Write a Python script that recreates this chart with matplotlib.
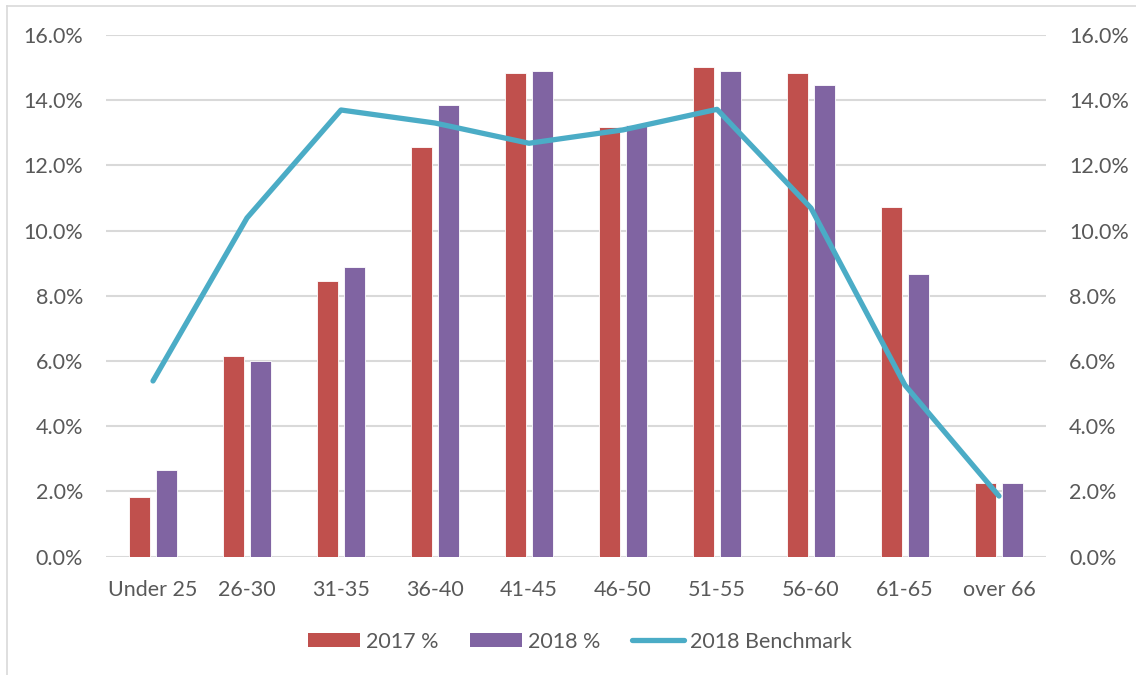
import matplotlib
matplotlib.use("Agg")
import matplotlib.pyplot as plt
from matplotlib.lines import Line2D
from matplotlib.patches import Patch
import numpy as np

categories = ["Under 25", "26-30", "31-35", "36-40", "41-45", "46-50", "51-55", "56-60", "61-65", "over 66"]
pct_2017 = [1.84, 6.17, 8.45, 12.57, 14.84, 13.17, 15.03, 14.84, 10.71, 2.26]
pct_2018 = [2.67, 6.01, 8.89, 13.86, 14.89, 13.23, 14.89, 14.48, 8.68, 2.27]
bench_2018 = [5.39, 10.39, 13.70, 13.30, 12.68, 13.09, 13.72, 10.69, 5.26, 1.86]
yticks = [0, 2, 4, 6, 8, 10, 12, 14, 16]

C17 = "#C0504D"
C18 = "#8064A2"
CB = "#4BACC6"
TXT = "#595959"
GRID = "#D9D9D9"
FS = 15.5

plt.rcParams['font.family'] = ['Lato', 'DejaVu Sans']

W, H = 1136, 675
L, R, T, B = 106, 1046, 35, 556.7
fig = plt.figure(figsize=(W/100, H/100), dpi=100)
ax = fig.add_axes([L/W, 1-B/H, (R-L)/W, (B-T)/H])

x = np.arange(len(categories))
bw = 0.223
off = 0.143
ax.bar(x - off, pct_2017, bw, color=C17, edgecolor="white", linewidth=0.6, zorder=2)
ax.bar(x + off, pct_2018, bw, color=C18, edgecolor="white", linewidth=0.6, zorder=2)

ax.set_xlim(-0.5, len(categories)-0.5)
ax.set_ylim(0, 16)
ax.set_yticks(yticks)
ax.set_yticklabels([f"{v:.1f}%" for v in yticks])
ax.set_xticks(x)
ax.set_xticklabels(categories)
ax.grid(axis='y', color=GRID, linewidth=1.5, zorder=0)
ax.set_axisbelow(True)
for s in ax.spines.values():
    s.set_visible(False)
ax.tick_params(axis='both', length=0, labelsize=FS, labelcolor=TXT)
ax.tick_params(axis='y', pad=16.5)
ax.tick_params(axis='x', pad=17)

ax2 = ax.twinx()
ax2.set_ylim(0, 16)
ax2.set_yticks(yticks)
ax2.set_yticklabels([f"{v:.1f}%" for v in yticks])
for s in ax2.spines.values():
    s.set_visible(False)
ax2.tick_params(axis='y', length=0, labelsize=FS, labelcolor=TXT, pad=16.5)
ax2.plot(x, bench_2018, color=CB, linewidth=3.8, solid_capstyle='round', solid_joinstyle='round', zorder=3)

handles = [Patch(facecolor=C17, edgecolor='none'), Patch(facecolor=C18, edgecolor='none'),
           Line2D([0], [0], color=CB, linewidth=3.8, solid_capstyle='round')]
labels = ["2017 %", "2018 %", "2018 Benchmark"]
fig.legend(handles, labels, loc='center', bbox_to_anchor=(580/W, 1-641.5/H), ncol=3, frameon=False,
           fontsize=FS, labelcolor=TXT, handlelength=2.4, handleheight=0.6, handletextpad=0.26,
           columnspacing=1.5)

# chart-area border (top and left visible)
fig.add_artist(Line2D([6.5/W, 1], [1-6/H, 1-6/H], color=GRID, linewidth=1.2, transform=fig.transFigure))
fig.add_artist(Line2D([6.5/W, 6.5/W], [0, 1-6/H], color=GRID, linewidth=1.2, transform=fig.transFigure))

fig.savefig("out.png", dpi=100)
